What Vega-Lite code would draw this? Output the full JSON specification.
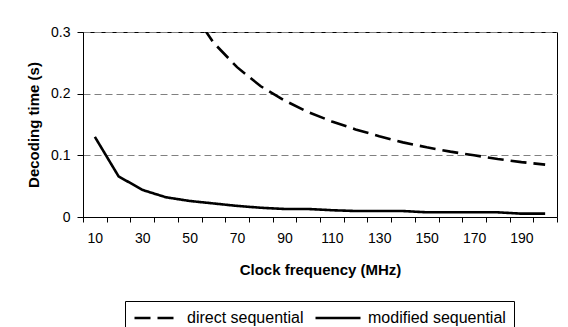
{
  "$schema": "https://vega.github.io/schema/vega-lite/v6.json",
  "width": 474,
  "height": 185,
  "autosize": "none",
  "padding": {"left": 83, "top": 32, "right": 11, "bottom": 110},
  "background": "white",
  "data": {"values": [
    {"f": 10, "series": "direct sequential", "t": 1.7},
    {"f": 20, "series": "direct sequential", "t": 0.85},
    {"f": 30, "series": "direct sequential", "t": 0.567},
    {"f": 40, "series": "direct sequential", "t": 0.425},
    {"f": 50, "series": "direct sequential", "t": 0.34},
    {"f": 60, "series": "direct sequential", "t": 0.283},
    {"f": 70, "series": "direct sequential", "t": 0.243},
    {"f": 80, "series": "direct sequential", "t": 0.212},
    {"f": 90, "series": "direct sequential", "t": 0.189},
    {"f": 100, "series": "direct sequential", "t": 0.17},
    {"f": 110, "series": "direct sequential", "t": 0.155},
    {"f": 120, "series": "direct sequential", "t": 0.142},
    {"f": 130, "series": "direct sequential", "t": 0.131},
    {"f": 140, "series": "direct sequential", "t": 0.121},
    {"f": 150, "series": "direct sequential", "t": 0.113},
    {"f": 160, "series": "direct sequential", "t": 0.106},
    {"f": 170, "series": "direct sequential", "t": 0.1},
    {"f": 180, "series": "direct sequential", "t": 0.094},
    {"f": 190, "series": "direct sequential", "t": 0.089},
    {"f": 200, "series": "direct sequential", "t": 0.085},
    {"f": 10, "series": "modified sequential", "t": 0.13},
    {"f": 20, "series": "modified sequential", "t": 0.066},
    {"f": 30, "series": "modified sequential", "t": 0.044},
    {"f": 40, "series": "modified sequential", "t": 0.032},
    {"f": 50, "series": "modified sequential", "t": 0.026},
    {"f": 60, "series": "modified sequential", "t": 0.022},
    {"f": 70, "series": "modified sequential", "t": 0.018},
    {"f": 80, "series": "modified sequential", "t": 0.015},
    {"f": 90, "series": "modified sequential", "t": 0.013},
    {"f": 100, "series": "modified sequential", "t": 0.013},
    {"f": 110, "series": "modified sequential", "t": 0.011},
    {"f": 120, "series": "modified sequential", "t": 0.0097},
    {"f": 130, "series": "modified sequential", "t": 0.0097},
    {"f": 140, "series": "modified sequential", "t": 0.0097},
    {"f": 150, "series": "modified sequential", "t": 0.0076},
    {"f": 160, "series": "modified sequential", "t": 0.0076},
    {"f": 170, "series": "modified sequential", "t": 0.0076},
    {"f": 180, "series": "modified sequential", "t": 0.0076},
    {"f": 190, "series": "modified sequential", "t": 0.0054},
    {"f": 200, "series": "modified sequential", "t": 0.0054}
  ]},
  "mark": {"type": "line", "clip": true, "color": "black", "strokeWidth": 2.6},
  "encoding": {
    "x": {
      "field": "f", "type": "ordinal",
      "scale": {"type": "band", "paddingInner": 0, "paddingOuter": 0},
      "axis": {
        "title": "Clock frequency (MHz)",
        "labelAngle": 0,
        "tickBand": "extent",
        "labelExpr": "datum.value % 20 == 10 ? datum.label : ''",
        "tickSize": 5,
        "labelPadding": 9,
        "titlePadding": 17,
        "grid": false
      }
    },
    "y": {
      "field": "t", "type": "quantitative",
      "scale": {"domain": [0, 0.3], "nice": false},
      "axis": {
        "title": "Decoding time (s)",
        "values": [0, 0.1, 0.2, 0.3],
        "format": ".1~f",
        "tickSize": 6,
        "labelPadding": 7,
        "titlePadding": 9,
        "grid": true,
        "gridColor": "#808080",
        "gridDash": [7, 4],
        "gridWidth": 1
      }
    },
    "strokeDash": {
      "field": "series", "type": "nominal",
      "scale": {"domain": ["direct sequential", "modified sequential"], "range": [[16, 7], [1, 0]]},
      "legend": {
        "title": null,
        "orient": "none",
        "legendX": 42,
        "legendY": 269,
        "direction": "horizontal",
        "strokeColor": "black",
        "fillColor": "white",
        "padding": 8,
        "symbolType": "M-1,0H5",
        "symbolSize": 225,
        "symbolStrokeWidth": 2.6,
        "symbolStrokeColor": "black",
        "labelFontSize": 16,
        "labelOffset": 36,
        "columnPadding": 6
      }
    }
  },
  "config": {
    "font": "Liberation Sans",
    "view": {"stroke": "black", "strokeWidth": 1},
    "axis": {
      "labelFont": "Liberation Sans",
      "labelFontSize": 14,
      "labelColor": "black",
      "titleFont": "Liberation Sans",
      "titleFontSize": 15,
      "titleFontWeight": "bold",
      "titleColor": "black",
      "domainColor": "black",
      "tickColor": "black"
    },
    "legend": {"labelFont": "Liberation Sans", "labelColor": "black"}
  }
}
